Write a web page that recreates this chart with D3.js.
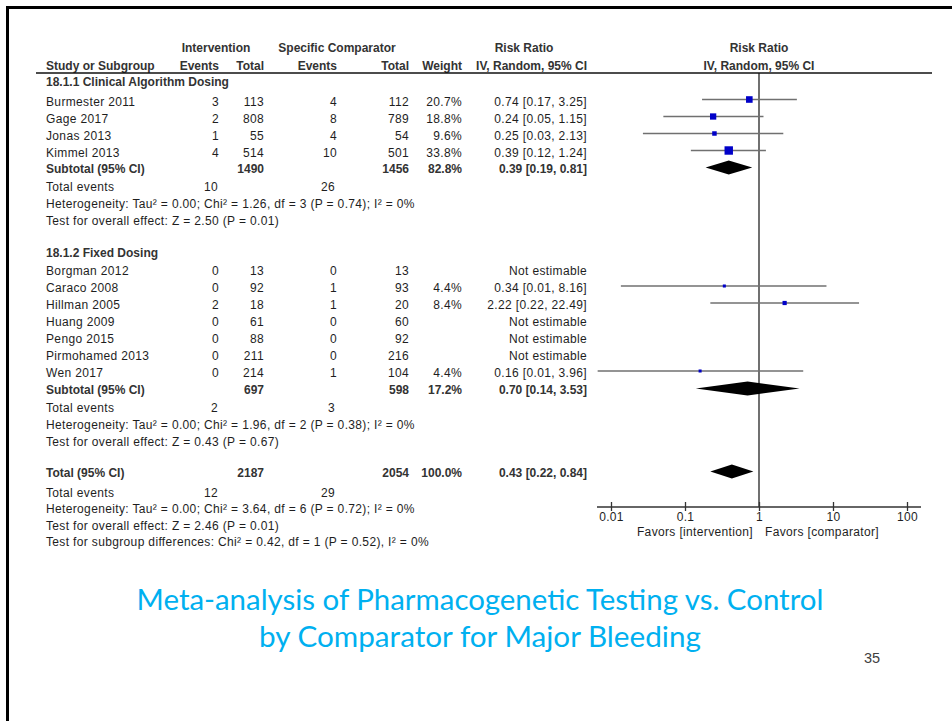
<!DOCTYPE html>
<html>
<head>
<meta charset="utf-8">
<script src="https://cdn.jsdelivr.net/npm/d3@7"></script>
<style>
  body { margin: 0; background: #fff; }
  svg { display: block; }
  text { font-family: "Liberation Sans", Arial, sans-serif; }
</style>
</head>
<body>
<div id="chart"></div>
<script>
// subgroup 1: clinical algorithm dosing
const g1Label = '18.1.1 Clinical Algorithm Dosing';
const g1Studies = ['Burmester 2011', 'Gage 2017', 'Jonas 2013', 'Kimmel 2013'];
const g1IntEvents = [3, 2, 1, 4];
const g1IntTotal = [113, 808, 55, 514];
const g1CmpEvents = [4, 8, 4, 10];
const g1CmpTotal = [112, 789, 54, 501];
const g1Weight = [20.7, 18.8, 9.6, 33.8];
const g1RR = [0.74, 0.24, 0.25, 0.39];
const g1Low = [0.17, 0.051, 0.027, 0.12];
const g1High = [3.25, 1.15, 2.13, 1.24];
const g1Sub = { intTotal: 1490, cmpTotal: 1456, weight: 82.8, rr: 0.39, low: 0.19, high: 0.81, intEv: 10, cmpEv: 26 };
const g1Het = 'Heterogeneity: Tau² = 0.00; Chi² = 1.26, df = 3 (P = 0.74); I² = 0%';
const g1Test = 'Test for overall effect: Z = 2.50 (P = 0.01)';

// subgroup 2: fixed dosing (null = not estimable)
const g2Label = '18.1.2 Fixed Dosing';
const g2Studies = ['Borgman 2012', 'Caraco 2008', 'Hillman 2005', 'Huang 2009', 'Pengo 2015', 'Pirmohamed 2013', 'Wen 2017'];
const g2IntEvents = [0, 0, 2, 0, 0, 0, 0];
const g2IntTotal = [13, 92, 18, 61, 88, 211, 214];
const g2CmpEvents = [0, 1, 1, 0, 0, 0, 1];
const g2CmpTotal = [13, 93, 20, 60, 92, 216, 104];
const g2Weight = [null, 4.4, 8.4, null, null, null, 4.4];
const g2RR = [null, 0.34, 2.22, null, null, null, 0.16];
const g2Low = [null, 0.0136, 0.22, null, null, null, 0.0066];
const g2High = [null, 8.16, 22.49, null, null, null, 3.96];
const g2Sub = { intTotal: 697, cmpTotal: 598, weight: 17.2, rr: 0.70, low: 0.14, high: 3.53, intEv: 2, cmpEv: 3 };
const g2Het = 'Heterogeneity: Tau² = 0.00; Chi² = 1.96, df = 2 (P = 0.38); I² = 0%';
const g2Test = 'Test for overall effect: Z = 0.43 (P = 0.67)';

// overall
const total = { intTotal: 2187, cmpTotal: 2054, weight: 100.0, rr: 0.43, low: 0.22, high: 0.84, intEv: 12, cmpEv: 29 };
const totHet = 'Heterogeneity: Tau² = 0.00; Chi² = 3.64, df = 6 (P = 0.72); I² = 0%';
const totTest = 'Test for overall effect: Z = 2.46 (P = 0.01)';
const totSubgroup = 'Test for subgroup differences: Chi² = 0.42, df = 1 (P = 0.52), I² = 0%';

const axisTicks = [0.01, 0.1, 1, 10, 100];
const favorsLeft = 'Favors [intervention]';
const favorsRight = 'Favors [comparator]';
const titleLines = ['Meta-analysis of Pharmacogenetic Testing vs. Control', 'by Comparator for Major Bleeding'];
const pageNum = '35';

const W = 952, H = 721;
const svg = d3.select('#chart').append('svg').attr('width', W).attr('height', H);

// slide frame
svg.append('rect')
    .attr('x', 7.5).attr('y', 7.5)
    .attr('width', 1100).attr('height', 1100)
    .attr('fill', 'none').attr('stroke', '#000').attr('stroke-width', 3);

// column anchors
const col = { name: 46, intEv: 219, intTot: 264, cmpEv: 337, cmpTot: 409, weight: 462, ci: 587 };

const x = d3.scaleLog().domain([0.01, 100]).range([611, 907]);
const boxSize = d3.scaleSqrt().domain([0, 100]).range([0, 14.5]);

function txt(px, py, s, opt = {}) {
    return svg.append('text')
        .attr('x', px)
        .attr('y', py + 4.3)
        .attr('text-anchor', opt.anchor || 'start')
        .style('font-size', (opt.size || 12) + 'px')
        .style('font-weight', opt.bold ? 'bold' : 'normal')
        .style('letter-spacing', opt.bold ? '0px' : '0.35px')
        .attr('fill', opt.bold ? '#333' : '#1e1e1e')
        .text(s);
}

const fmtCI = (rr, lo, hi) => `${rr.toFixed(2)} [${lo.toFixed(2)}, ${hi.toFixed(2)}]`;

// header
txt(216, 48, 'Intervention', { bold: true, anchor: 'middle' });
txt(337, 48, 'Specific Comparator', { bold: true, anchor: 'middle' });
txt(524, 48, 'Risk Ratio', { bold: true, anchor: 'middle' });
txt(759, 48, 'Risk Ratio', { bold: true, anchor: 'middle' });
txt(col.name, 65.5, 'Study or Subgroup', { bold: true });
txt(col.intEv, 65.5, 'Events', { bold: true, anchor: 'end' });
txt(col.intTot, 65.5, 'Total', { bold: true, anchor: 'end' });
txt(col.cmpEv, 65.5, 'Events', { bold: true, anchor: 'end' });
txt(col.cmpTot, 65.5, 'Total', { bold: true, anchor: 'end' });
txt(col.weight, 65.5, 'Weight', { bold: true, anchor: 'end' });
txt(col.ci, 65.5, 'IV, Random, 95% CI', { bold: true, anchor: 'end' });
txt(759, 65.5, 'IV, Random, 95% CI', { bold: true, anchor: 'middle' });

svg.append('line')
    .attr('x1', 36).attr('x2', 932).attr('y1', 73).attr('y2', 73)
    .attr('stroke', '#111').attr('stroke-width', 1.5);

// line of no effect
svg.append('line')
    .attr('x1', x(1)).attr('x2', x(1)).attr('y1', 73).attr('y2', 507)
    .attr('stroke', '#111').attr('stroke-width', 1.2);

const plot = svg.append('g');

function drawStudy(y, name, ie, it, ce, ct, w, rr, lo, hi) {
    txt(col.name, y, name);
    txt(col.intEv, y, ie, { anchor: 'end' });
    txt(col.intTot, y, it, { anchor: 'end' });
    txt(col.cmpEv, y, ce, { anchor: 'end' });
    txt(col.cmpTot, y, ct, { anchor: 'end' });
    if (rr == null) {
        txt(col.ci, y, 'Not estimable', { anchor: 'end' });
        return;
    }
    txt(col.weight, y, w.toFixed(1) + '%', { anchor: 'end' });
    txt(col.ci, y, fmtCI(rr, lo, hi), { anchor: 'end' });
    const my = y - 2;
    plot.append('line')
        .attr('x1', x(lo)).attr('x2', x(hi)).attr('y1', my).attr('y2', my)
        .attr('stroke', '#707070').attr('stroke-width', 1.5);
    const s = boxSize(w);
    plot.append('rect')
        .attr('x', x(rr) - s / 2).attr('y', my - s / 2)
        .attr('width', s).attr('height', s)
        .attr('fill', '#0000c8');
}

function drawDiamond(y, d) {
    const my = y - 1;
    const pts = [[x(d.low), my], [x(d.rr), my - 7], [x(d.high), my], [x(d.rr), my + 7]];
    plot.append('path')
        .attr('d', d3.line()(pts) + 'Z')
        .attr('fill', '#000');
}

function drawSummary(y, label, d) {
    txt(col.name, y, label, { bold: true });
    txt(col.intTot, y, d.intTotal, { bold: true, anchor: 'end' });
    txt(col.cmpTot, y, d.cmpTotal, { bold: true, anchor: 'end' });
    txt(col.weight, y, d.weight.toFixed(1) + '%', { bold: true, anchor: 'end' });
    txt(col.ci, y, fmtCI(d.rr, d.low, d.high), { bold: true, anchor: 'end' });
    drawDiamond(y, d);
}

function drawEvents(y, d) {
    txt(col.name, y, 'Total events');
    txt(col.intEv - 1, y, d.intEv, { anchor: 'end' });
    txt(col.cmpEv - 2, y, d.cmpEv, { anchor: 'end' });
}

// group 1
let y = 81.5;
txt(col.name, y, g1Label, { bold: true });
y += 20;
g1Studies.forEach((s, i) => {
    drawStudy(y, s, g1IntEvents[i], g1IntTotal[i], g1CmpEvents[i], g1CmpTotal[i], g1Weight[i], g1RR[i], g1Low[i], g1High[i]);
    y += 17;
});
y -= 1;
drawSummary(y, 'Subtotal (95% CI)', g1Sub);
y += 18.5; drawEvents(y, g1Sub);
y += 16.5; txt(col.name, y, g1Het);
y += 17; txt(col.name, y, g1Test);

// group 2
y += 32.5;
txt(col.name, y, g2Label, { bold: true });
y += 18;
g2Studies.forEach((s, i) => {
    drawStudy(y, s, g2IntEvents[i], g2IntTotal[i], g2CmpEvents[i], g2CmpTotal[i], g2Weight[i], g2RR[i], g2Low[i], g2High[i]);
    y += 17;
});
y -= 0.5;
drawSummary(y, 'Subtotal (95% CI)', g2Sub);
y += 18.5; drawEvents(y, g2Sub);
y += 17; txt(col.name, y, g2Het);
y += 16.5; txt(col.name, y, g2Test);

// overall
y += 31;
drawSummary(y, 'Total (95% CI)', total);
y += 20; drawEvents(y, total);
y += 16.5; txt(col.name, y, totHet);
y += 16.5; txt(col.name, y, totTest);
y += 16.5; txt(col.name, y, totSubgroup);

// axis
const axisY = 507;
svg.append('line')
    .attr('x1', 597).attr('x2', 921).attr('y1', axisY).attr('y2', axisY)
    .attr('stroke', '#333').attr('stroke-width', 1.3);
const axis = svg.append('g')
    .attr('transform', `translate(0, ${axisY})`)
    .call(d3.axisBottom(x).tickValues(axisTicks).tickFormat((d) => String(d)).tickSize(4));
axis.select('.domain').remove();
axis.selectAll('.tick line').attr('y1', -5).attr('y2', 4).attr('stroke', '#333').attr('stroke-width', 1.3);
axis.selectAll('.tick text')
    .attr('y', 5)
    .style('font-family', '"Liberation Sans", Arial, sans-serif')
    .style('font-size', '12px')
    .style('letter-spacing', '0.35px')
    .attr('fill', '#1e1e1e');
axis.attr('font-family', null).attr('font-size', null);

txt(x(1) - 6, 531.5, favorsLeft, { anchor: 'end' });
txt(x(1) + 6, 531.5, favorsRight);

// slide title
const titleWidths = [687, 442];
titleLines.forEach((line, i) => {
    const t = svg.append('text')
        .attr('x', 480)
        .attr('y', 610 + i * 37)
        .attr('text-anchor', 'middle')
        .style('font-family', 'Lato, "Open Sans", sans-serif')
        .style('font-size', '28px')
        .attr('fill', '#00b0f0')
        .text(line);
    const len = t.node().getComputedTextLength();
    t.style('font-size', (28 * titleWidths[i] / len).toFixed(2) + 'px');
});

svg.append('text')
    .attr('x', 872).attr('y', 663)
    .attr('text-anchor', 'middle')
    .style('font-size', '14.5px')
    .attr('fill', '#404040')
    .text(pageNum);
</script>
</body>
</html>
